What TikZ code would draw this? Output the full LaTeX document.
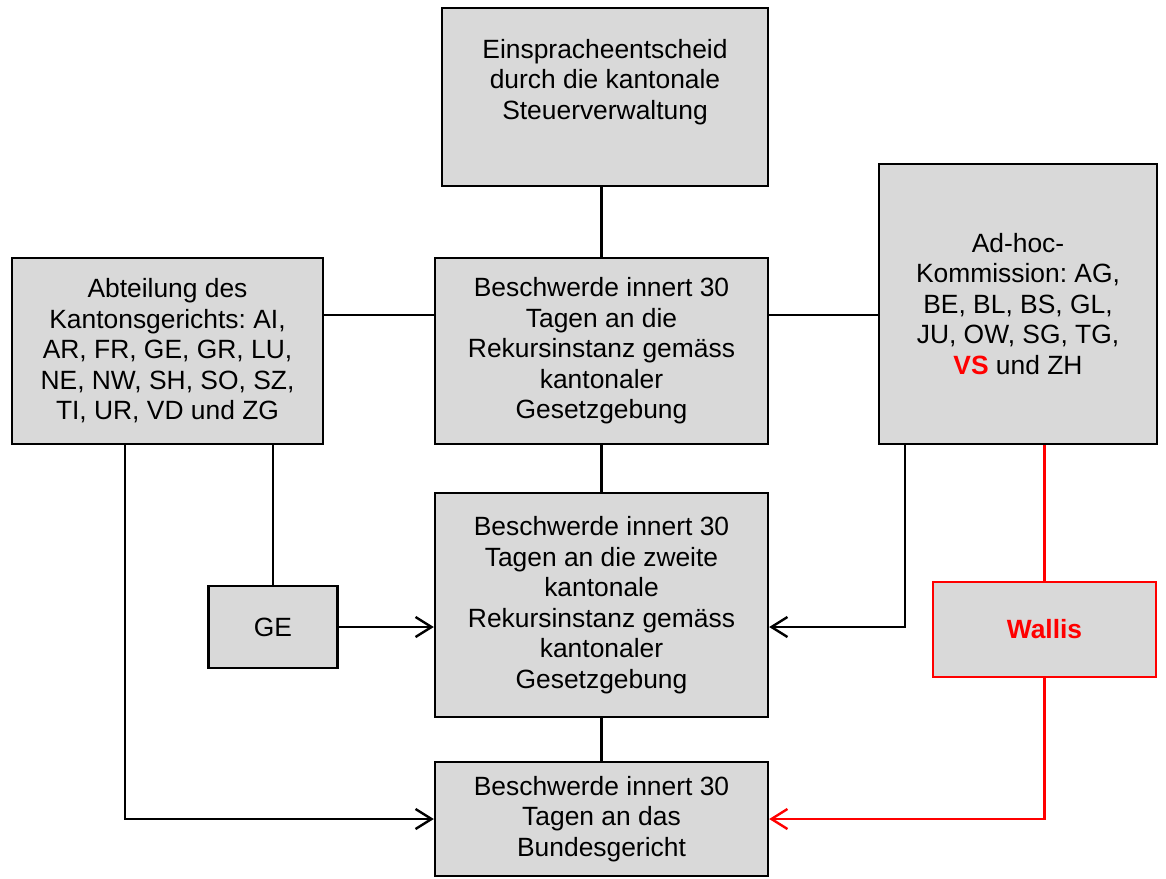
\documentclass[tikz,border=0pt]{standalone}
\usepackage{fontspec}
\setmainfont{Liberation Sans}
\frenchspacing
\usetikzlibrary{arrows.meta}
\definecolor{boxgray}{HTML}{D9D9D9}
\tikzstyle{kasten} = [rectangle, align=center, text centered, draw=black, line width=1.2pt, fill=boxgray]
\tikzstyle{rotkasten} = [kasten, draw=red, text=red, font=\fontsize{13.2}{15.25}\selectfont\bfseries]
\tikzstyle{linie} = [line width=1.2pt]
\tikzstyle{rotlinie} = [line width=1.2pt, draw=red]
\tikzstyle{arrow} = [line width=1.2pt,->,>={Straight Barb[length=8pt,width=10pt]}]
\tikzstyle{rotarrow} = [arrow, draw=red]

\begin{document}
\begin{tikzpicture}[node distance=100pt, font=\fontsize{13.2}{15.25}\selectfont]
        \useasboundingbox (-300.75pt,175.5pt) rectangle (282.25pt,-263.5pt);
        \node (rekurs) [kasten, minimum width=166.5pt, minimum height=93pt] {Beschwerde innert 30\\Tagen an die\\Rekursinstanz gemäss\\kantonaler\\Gesetzgebung};
        \node (entscheid) [kasten, minimum width=163pt, minimum height=89pt, text depth=18pt, above of=rekurs, xshift=1.75pt, yshift=27pt] {Einspracheentscheid\\durch die kantonale\\Steuerverwaltung};
        \node (kantonsgericht) [kasten, minimum width=155.5pt, minimum height=93pt, left of=rekurs, xshift=-117pt] {Abteilung des\\Kantonsgerichts: AI,\\AR, FR, GE, GR, LU,\\NE, NW, SH, SO, SZ,\\TI, UR, VD und ZG};
        \node (adhoc) [kasten, minimum width=139pt, minimum height=140pt, right of=rekurs, xshift=108.25pt, yshift=23.5pt] {Ad-hoc-\\Kommission: AG,\\BE, BL, BS, GL,\\JU, OW, SG, TG,\\{\color{red}\bfseries VS} und ZH};
        \node (zweite) [kasten, minimum width=166.5pt, minimum height=112pt, below of=rekurs, yshift=-27pt] {Beschwerde innert 30\\Tagen an die zweite\\kantonale\\Rekursinstanz gemäss\\kantonaler\\Gesetzgebung};
        \node (ge) [kasten, minimum width=64.5pt, minimum height=41pt, left of=zweite, xshift=-64.25pt, yshift=-11pt] {GE};
        \node (wallis) [rotkasten, minimum width=111.5pt, minimum height=47.5pt, right of=zweite, xshift=121.5pt, yshift=-12.25pt] {Wallis};
        \node (bundesgericht) [kasten, minimum width=166.5pt, minimum height=57pt, below of=zweite, yshift=-7pt] {Beschwerde innert 30\\Tagen an das\\Bundesgericht};

        \draw [linie] (rekurs.north) -- (rekurs.north |- entscheid.south);
        \draw [linie] ([yshift=18pt]kantonsgericht.east) -- ([yshift=18pt]rekurs.west);
        \draw [linie] ([yshift=18pt]rekurs.east) -- ([yshift=18pt]rekurs.east -| adhoc.west);
        \draw [linie] (rekurs.south) -- (zweite.north);
        \draw [linie] (zweite.south) -- (bundesgericht.north);
        \draw [linie] (ge.north) -- (ge.north |- kantonsgericht.south);
        \draw [arrow] (ge.east) -- (ge.east -| zweite.west);
        \draw [arrow] ([xshift=13.5pt]adhoc.south west) |- (zweite.east |- ge.east);
        \draw [arrow] ([xshift=57pt]kantonsgericht.south west) |- (bundesgericht.west);
        \draw [rotlinie] (wallis.north) -- (wallis.north |- adhoc.south);
        \draw [rotarrow] (wallis.south) |- (bundesgericht.east);
    \end{tikzpicture}
\end{document}
